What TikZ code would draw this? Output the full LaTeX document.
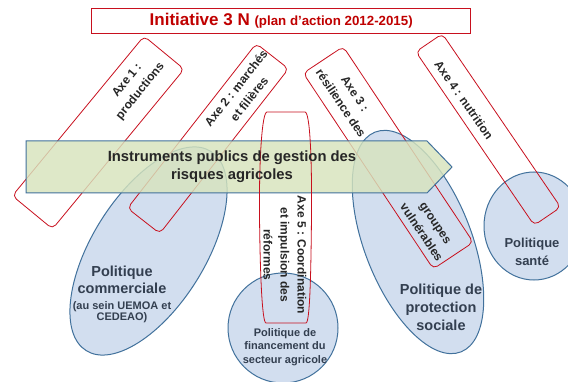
\documentclass[tikz,border=0pt]{standalone}
\usepackage{fontspec}
\setmainfont{Liberation Sans}
\usetikzlibrary{shapes.geometric}
\definecolor{axred}{HTML}{C8101E}
\definecolor{bblue}{HTML}{41719C}
\definecolor{bfill}{HTML}{D2DEEF}
\definecolor{gfill}{HTML}{D7E4BD}
\definecolor{ptext}{HTML}{333F50}
\definecolor{atext}{HTML}{262626}
\definecolor{tred}{HTML}{C00000}
\begin{document}
\begin{tikzpicture}[x=1pt,y=-1pt,
 axebox/.style={draw=axred, line width=0.8pt, rectangle, rounded corners=5pt, inner sep=0pt},
 axeline/.style={draw=axred, line width=0.8pt},
 polell/.style={draw=bblue, fill=bfill, line width=1pt, ellipse, inner sep=0pt},
 axetext/.style={text=atext, font=\bfseries\fontsize{12}{17}\selectfont, align=center, inner sep=0pt},
 poltext/.style={text=ptext, align=center, inner sep=0pt},
]
\clip (0,0) rectangle (568,382);
\fill[white] (0,0) rectangle (568,382);
% policy ellipses
\node[polell, minimum width=235pt, minimum height=113pt, rotate=58] (ecom) at (148.5,251) {};
\node[polell, minimum width=110pt, minimum height=110pt] (efin) at (283,328) {};
\node[polell, minimum width=236pt, minimum height=107pt, rotate=-68.7] (epro) at (418,242) {};
\node[polell, minimum width=100pt, minimum height=108pt] (esan) at (534,226) {};
% axis boxes
\node[axebox, minimum width=207pt, minimum height=52pt, rotate=50.5] (b1) at (98.25,132.5) {};
\node[axebox, minimum width=209pt, minimum height=41pt, rotate=52] (b2) at (208,138.5) {};
\node[axebox, minimum width=235pt, minimum height=48pt, rotate=-56.4] (b3) at (388.25,157.75) {};
\node[axebox, minimum width=210pt, minimum height=32pt, rotate=-55.7] (b4) at (488.25,129.5) {};
% green arrow
\path[draw=bblue, line width=1pt, fill=gfill, fill opacity=0.82] (26,141) -- (427,141) -- (452,167) -- (427,193) -- (26,193) -- cycle;
% axe 5 box (slightly bowed sides)
\path[axeline] (267,112) -- (305,112) .. controls (310,112) and (312,160) .. (311.5,215)
  .. controls (311,270) and (310,323) .. (306,323) -- (266,323)
  .. controls (262,323) and (260,270) .. (259.5,215)
  .. controls (259,160) and (262,112) .. (267,112) -- cycle;
% title
\node[draw=axred, fill=white, line width=1pt, minimum width=379pt, minimum height=25pt, inner sep=0pt, text=tred, font=\bfseries] (title) at (281.2,20.8)
 {\fontsize{17}{18}\selectfont Initiative 3 N \fontsize{13.3}{15}\selectfont(plan d’action 2012-2015)};
% texts
\node[axetext, rotate=51] (t1) at (134,86) {Axe 1 :\\productions};
\node[axetext, rotate=51.5] (t2) at (242.5,93.5) {Axe 2 : marchés\\et filières};
\node[axetext, rotate=-56] (t3) at (348,98.5) {Axe 3 :\\résilience des};
\node[axetext, rotate=-56] (t3b) at (428,228) {groupes\\vulnérables};
\node[axetext, rotate=-55] (t4) at (464,100) {Axe 4 : nutrition};
\node[axetext, rotate=-90] (t5) at (285,255) {Axe 5 : Coordination\\et impulsion des\\réformes};
\node[text=atext, font=\bfseries\fontsize{14.8}{18}\selectfont, align=center, inner sep=0pt] (tg) at (232,167) {Instruments publics de gestion des\\risques agricoles};
\node[poltext, font=\bfseries\fontsize{14.5}{17}\selectfont] (tcom) at (122,280) {Politique\\commerciale};
\node[poltext, font=\bfseries\fontsize{11}{11.5}\selectfont] (tcom2) at (122,312) {(au sein UEMOA et\\CEDEAO)};
\node[poltext, font=\bfseries\fontsize{11}{13.5}\selectfont] (tfin) at (285,347) {Politique de\\financement du\\secteur agricole};
\node[poltext, font=\bfseries\fontsize{14.5}{18}\selectfont] (tpro) at (441,307) {Politique de\\protection\\sociale};
\node[poltext, font=\bfseries\fontsize{13}{18}\selectfont] (tsan) at (532,252) {Politique\\santé};
\end{tikzpicture}
\end{document}
